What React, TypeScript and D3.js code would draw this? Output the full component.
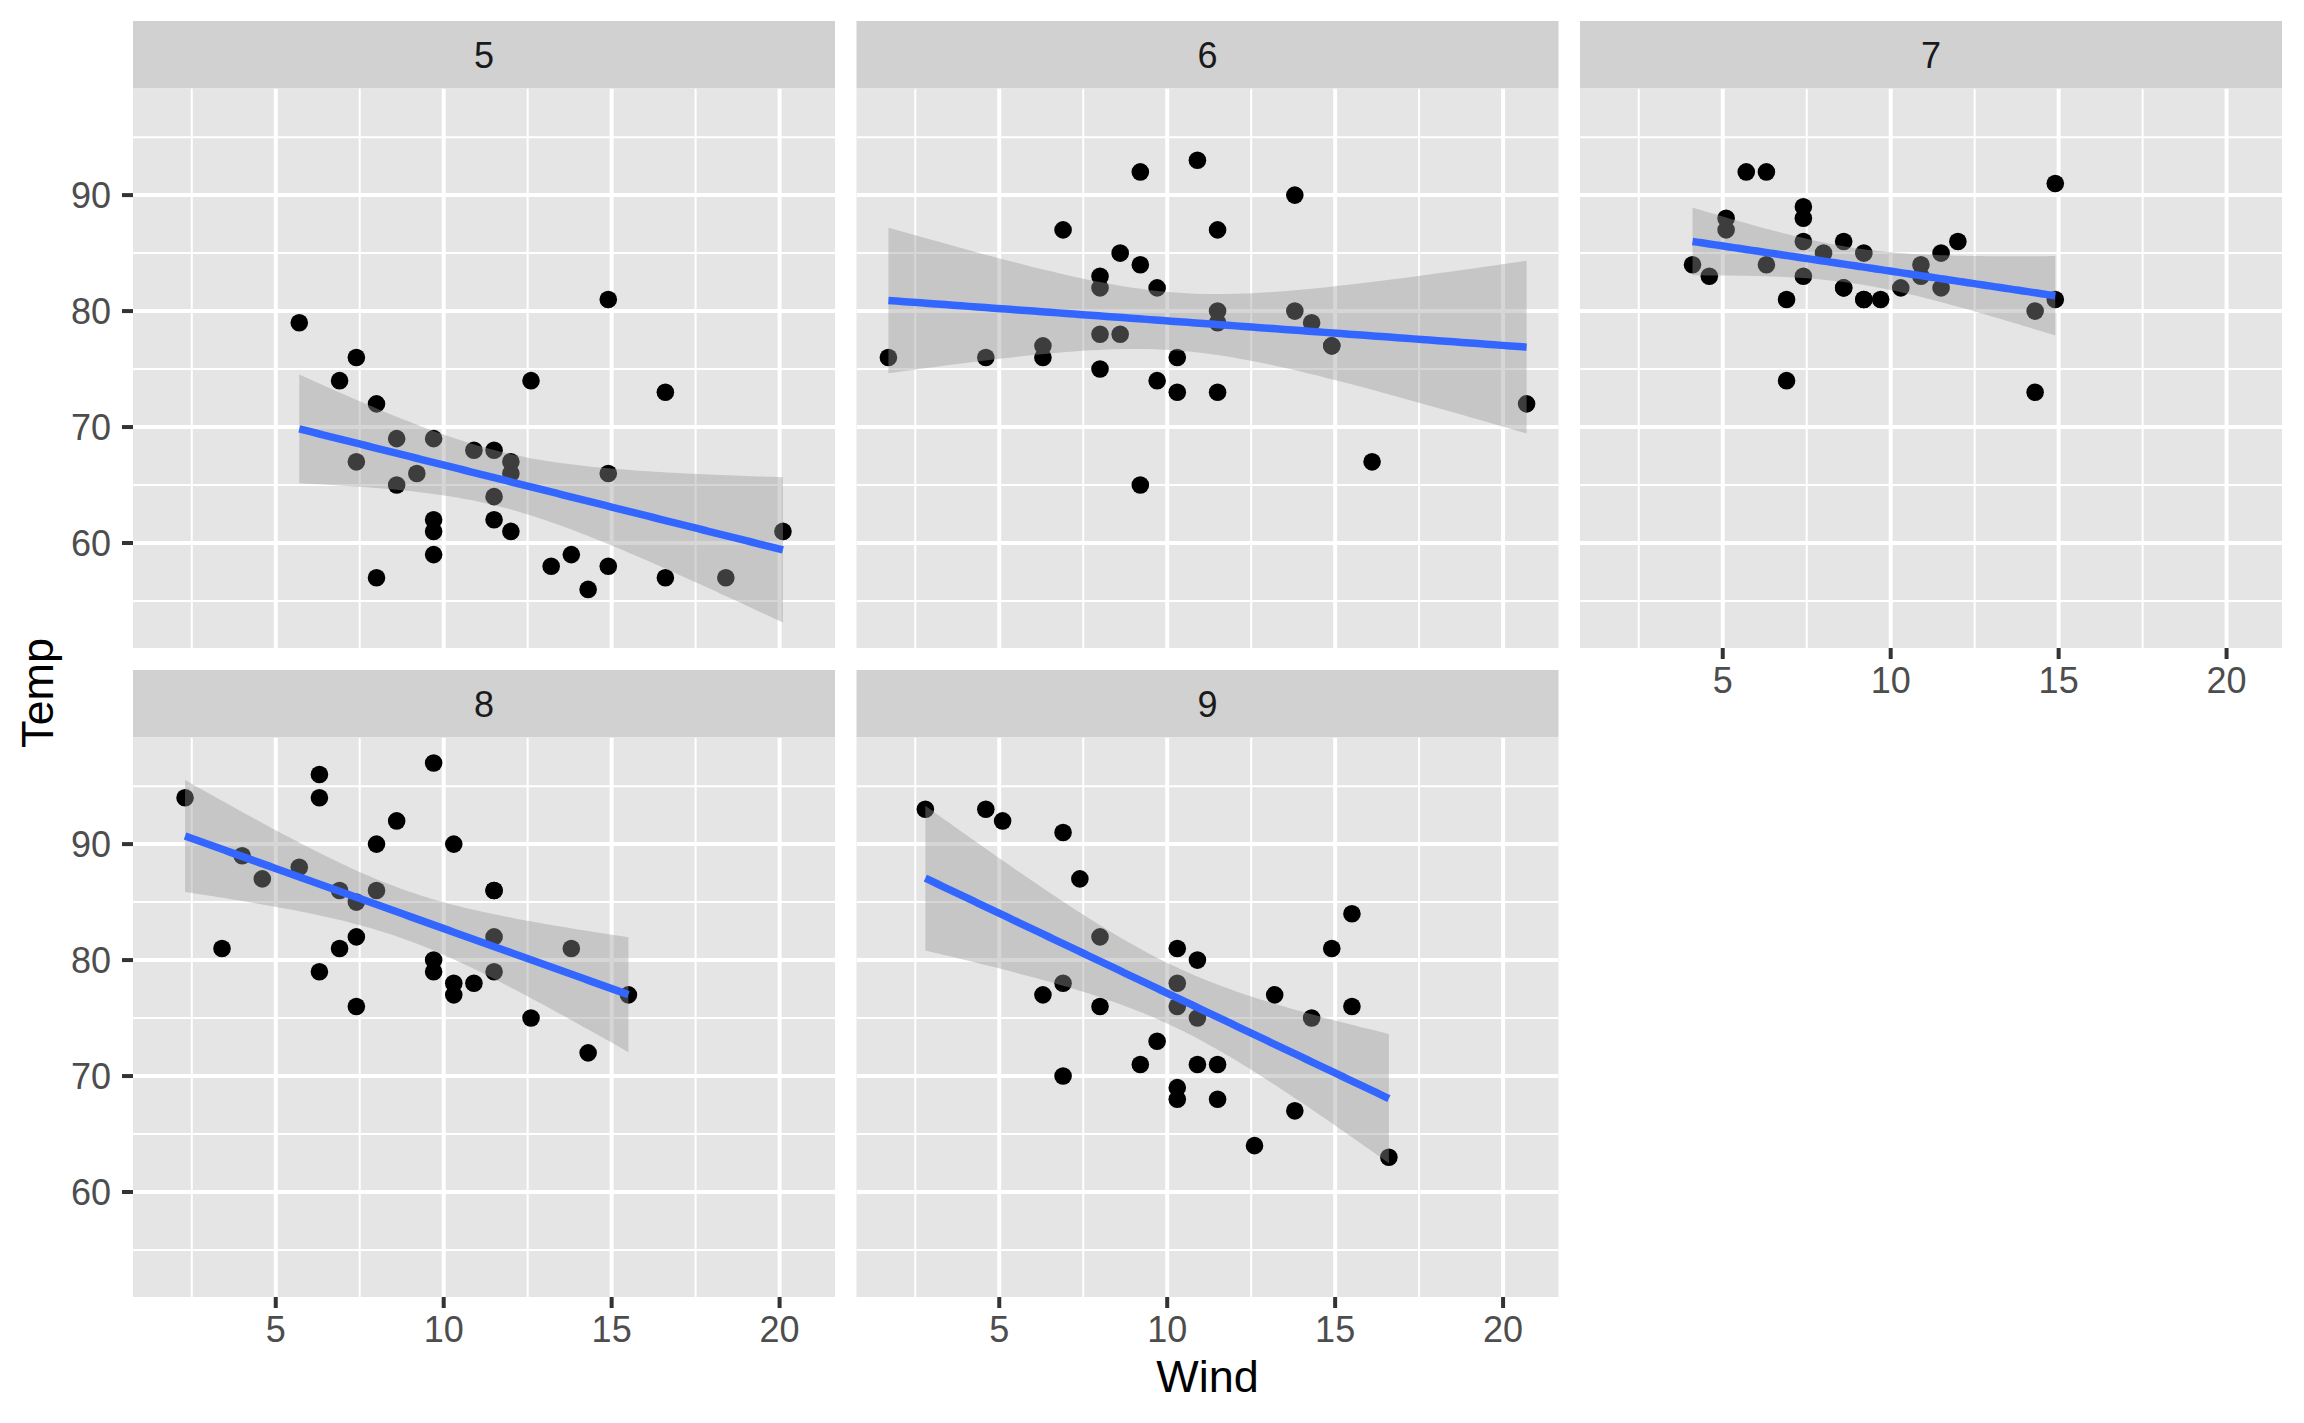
import React from 'react';
import * as d3 from 'd3';

const months = ['5', '6', '7', '8', '9'];

const windMay = [7.4, 8.0, 12.6, 11.5, 14.3, 14.9, 8.6, 13.8, 20.1, 8.6, 6.9, 9.7, 9.2, 10.9, 13.2, 11.5, 12.0, 18.4, 11.5, 9.7, 9.7, 16.6, 9.7, 12.0, 16.6, 14.9, 8.0, 12.0, 14.9, 5.7, 7.4];
const tempMay = [67, 72, 74, 62, 56, 66, 65, 59, 61, 69, 74, 69, 66, 68, 58, 64, 66, 57, 68, 62, 59, 73, 61, 61, 57, 58, 57, 67, 81, 79, 76];

const windJun = [8.6, 9.7, 16.1, 9.2, 8.6, 14.3, 9.7, 6.9, 13.8, 11.5, 10.9, 9.2, 8.0, 13.8, 11.5, 14.9, 20.7, 9.2, 11.5, 10.3, 6.3, 1.7, 4.6, 6.3, 8.0, 8.0, 10.3, 11.5, 14.9, 8.0];
const tempJun = [78, 74, 67, 84, 85, 79, 82, 87, 90, 87, 93, 92, 82, 80, 79, 77, 72, 65, 73, 76, 77, 76, 76, 76, 75, 78, 73, 80, 77, 83];

const windJul = [4.1, 9.2, 9.2, 10.9, 4.6, 10.9, 5.1, 6.3, 5.7, 7.4, 8.6, 14.3, 14.9, 14.9, 14.3, 6.9, 10.3, 6.3, 5.1, 11.5, 6.9, 9.7, 11.5, 8.6, 8.0, 8.6, 12.0, 7.4, 7.4, 7.4, 9.2];
const tempJul = [84, 85, 81, 84, 83, 83, 88, 92, 92, 89, 82, 73, 81, 91, 80, 81, 82, 84, 87, 85, 74, 81, 82, 86, 85, 82, 86, 88, 86, 83, 81];

const windAug = [6.9, 13.8, 7.4, 6.9, 7.4, 4.6, 4.0, 10.3, 8.0, 8.6, 11.5, 11.5, 11.5, 9.7, 11.5, 10.3, 6.3, 7.4, 10.9, 10.3, 15.5, 14.3, 12.6, 9.7, 3.4, 8.0, 5.7, 9.7, 2.3, 6.3, 6.3];
const tempAug = [81, 81, 82, 86, 85, 87, 89, 90, 90, 92, 86, 86, 82, 80, 79, 77, 79, 76, 78, 78, 77, 72, 75, 79, 81, 86, 88, 97, 94, 96, 94];

const windSep = [6.9, 5.1, 2.8, 4.6, 7.4, 15.5, 10.9, 10.3, 10.9, 9.7, 14.9, 15.5, 6.3, 10.9, 11.5, 6.9, 13.8, 10.3, 10.3, 8.0, 12.6, 9.2, 10.3, 10.3, 16.6, 6.9, 13.2, 14.3, 8.0, 11.5];
const tempSep = [91, 92, 93, 93, 87, 84, 80, 78, 75, 73, 81, 76, 77, 71, 71, 78, 67, 76, 68, 82, 64, 71, 81, 69, 63, 70, 77, 75, 76, 68];

const windByMonth = [windMay, windJun, windJul, windAug, windSep];
const tempByMonth = [tempMay, tempJun, tempJul, tempAug, tempSep];
// qt(0.975, n - 2) for each month
const tCrit = [2.04523, 2.04841, 2.04523, 2.04523, 2.04841];

const xTicks = [5, 10, 15, 20];
const xMinor = [2.5, 7.5, 12.5, 17.5];
const yTicks = [60, 70, 80, 90];
const yMinor = [55, 65, 75, 85, 95];

type Pt = { x: number; y: number; lo: number; hi: number };

function fitLm(x: number[], y: number[], t: number): Pt[] {
  const n = x.length;
  const mx = d3.mean(x) as number;
  const my = d3.mean(y) as number;
  let sxx = 0, sxy = 0;
  for (let i = 0; i < n; i++) {
    sxx += (x[i] - mx) ** 2;
    sxy += (x[i] - mx) * (y[i] - my);
  }
  const b = sxy / sxx;
  const a = my - b * mx;
  let sse = 0;
  for (let i = 0; i < n; i++) sse += (y[i] - a - b * x[i]) ** 2;
  const s = Math.sqrt(sse / (n - 2));
  const [x0, x1] = d3.extent(x) as [number, number];
  return d3.range(80).map((i) => {
    const xv = x0 + ((x1 - x0) * i) / 79;
    const f = a + b * xv;
    const se = s * Math.sqrt(1 / n + (xv - mx) ** 2 / sxx);
    return { x: xv, y: f, lo: f - t * se, hi: f + t * se };
  });
}

const W = 2304;
const H = 1423;
const colLeft = [133, 856.5, 1580];
const panelW = 702;
const stripTop = [21, 670];
const stripH = 67.5;
const panelH = 559.5;

export default function App() {
  const fits = months.map((_, i) => fitLm(windByMonth[i], tempByMonth[i], tCrit[i]));
  const allWind = windByMonth.flat();
  const allY = [
    ...tempByMonth.flat(),
    ...fits.flatMap((f) => f.map((p) => p.lo)),
    ...fits.flatMap((f) => f.map((p) => p.hi)),
  ];
  const [wx0, wx1] = d3.extent(allWind) as [number, number];
  const [yy0, yy1] = d3.extent(allY) as [number, number];
  const ex = (wx1 - wx0) * 0.05;
  const ey = (yy1 - yy0) * 0.05;

  const x = d3.scaleLinear().domain([wx0 - ex, wx1 + ex]).range([0, panelW]);
  const y = d3.scaleLinear().domain([yy0 - ey, yy1 + ey]).range([panelH, 0]);

  const area = d3
    .area<Pt>()
    .x((d) => x(d.x))
    .y0((d) => y(d.lo))
    .y1((d) => y(d.hi));
  const line = d3
    .line<Pt>()
    .x((d) => x(d.x))
    .y((d) => y(d.y));

  const font = '"Liberation Sans", Arial, Helvetica, sans-serif';

  return (
    <svg
      width={W}
      height={H}
      style={{ position: 'absolute', left: 0, top: 0, background: '#fff' }}
      fontFamily={font}
    >
      {months.map((m, i) => {
        const row = Math.floor(i / 3);
        const col = i % 3;
        const left = colLeft[col];
        const sTop = stripTop[row];
        const pTop = sTop + stripH;
        const showX = row === 1 || (row === 0 && col === 2);
        const showY = col === 0;
        const wx = windByMonth[i];
        const ty = tempByMonth[i];
        return (
          <g key={m}>
            <rect x={left} y={sTop} width={panelW} height={stripH} fill="#D1D1D1" />
            <text
              x={left + panelW / 2}
              y={sTop + stripH / 2}
              dy="0.36em"
              textAnchor="middle"
              fontSize={36}
              fill="#1A1A1A"
            >
              {m}
            </text>
            <g transform={`translate(${left},${pTop})`}>
              <clipPath id={`clip${i}`}>
                <rect x={0} y={0} width={panelW} height={panelH} />
              </clipPath>
              <rect x={0} y={0} width={panelW} height={panelH} fill="#E5E5E5" />
              <g clipPath={`url(#clip${i})`}>
                {yMinor.map((v) => (
                  <line key={'ym' + v} x1={0} x2={panelW} y1={y(v)} y2={y(v)} stroke="#fff" strokeWidth={2} />
                ))}
                {xMinor.map((v) => (
                  <line key={'xm' + v} x1={x(v)} x2={x(v)} y1={0} y2={panelH} stroke="#fff" strokeWidth={2} />
                ))}
                {yTicks.map((v) => (
                  <line key={'yM' + v} x1={0} x2={panelW} y1={y(v)} y2={y(v)} stroke="#fff" strokeWidth={4} />
                ))}
                {xTicks.map((v) => (
                  <line key={'xM' + v} x1={x(v)} x2={x(v)} y1={0} y2={panelH} stroke="#fff" strokeWidth={4} />
                ))}
                {wx.map((w, j) => (
                  <circle key={j} cx={x(w)} cy={y(ty[j])} r={8.8} fill="#000" />
                ))}
                <path d={area(fits[i]) as string} fill="#999999" fillOpacity={0.4} />
                <path d={line(fits[i]) as string} fill="none" stroke="#3366FF" strokeWidth={7.5} />
              </g>
              {showY &&
                yTicks.map((v) => (
                  <g key={'yt' + v}>
                    <line x1={-11} x2={0} y1={y(v)} y2={y(v)} stroke="#333333" strokeWidth={4} />
                    <text x={-22} y={y(v)} dy="0.36em" textAnchor="end" fontSize={36} fill="#4D4D4D">
                      {v}
                    </text>
                  </g>
                ))}
              {showX &&
                xTicks.map((v) => (
                  <g key={'xt' + v}>
                    <line x1={x(v)} x2={x(v)} y1={panelH} y2={panelH + 11} stroke="#333333" strokeWidth={4} />
                    <text x={x(v)} y={panelH + 45} textAnchor="middle" fontSize={36} fill="#4D4D4D">
                      {v}
                    </text>
                  </g>
                ))}
            </g>
          </g>
        );
      })}
      <text x={(colLeft[0] + colLeft[2] + panelW) / 2} y={1392} textAnchor="middle" fontSize={45} fill="#000">
        Wind
      </text>
      <text
        transform={`translate(53,693) rotate(-90)`}
        textAnchor="middle"
        fontSize={45}
        fill="#000"
      >
        Temp
      </text>
    </svg>
  );
}
